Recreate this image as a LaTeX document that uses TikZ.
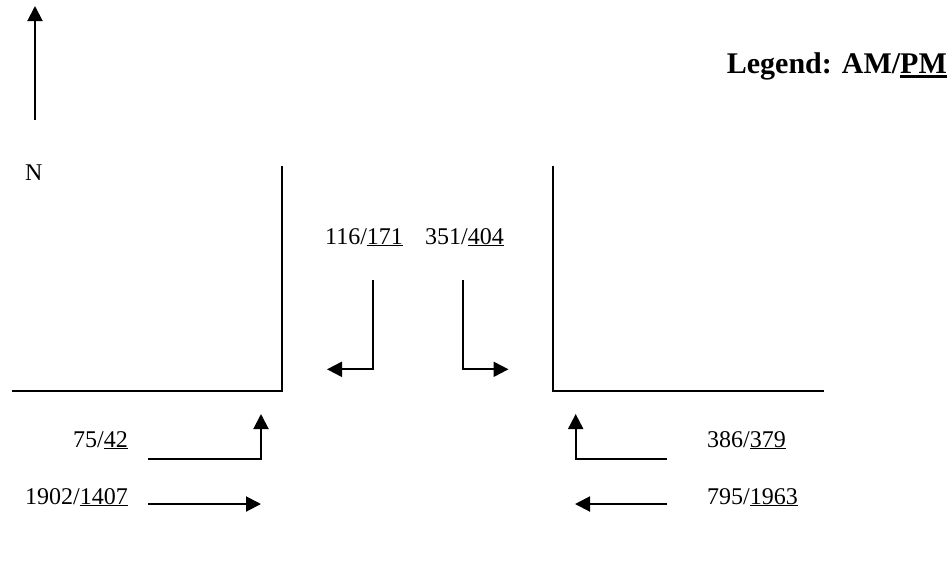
\documentclass[tikz,border=0pt]{standalone}
\usepackage{fontspec}
\setmainfont{Liberation Serif}
\usetikzlibrary{arrows.meta}
\newcommand\boldul[1]{\setbox0\hbox{#1}\rlap{\rule[-4.5pt]{\wd0}{2.4pt}}\box0}
\begin{document}
\begin{tikzpicture}[x=1pt,y=-1pt,
  road/.style={line width=2pt,line join=miter},
  mvt/.style={line width=2pt,-{Triangle[length=15pt,width=15pt]}},
  lbl/.style={inner sep=0pt,font=\fontsize{24}{28}\selectfont},
  leg/.style={inner sep=0pt,font=\fontsize{30}{34}\selectfont\bfseries}]
\useasboundingbox (0,0) rectangle (952,571);
% roads
\coordinate (wl) at (12,391);
\coordinate (wc) at (282.3,391);
\coordinate (wt) at (282.3,165.7);
\coordinate (et) at (553.3,165.7);
\coordinate (ec) at (553.3,391);
\coordinate (er) at (824,391);
\draw[road] (wl) -- (wc) -- (wt);
\draw[road] (et) -- (ec) -- (er);
% north arrow
\coordinate (n0) at (35,120);
\coordinate (n1) at (35,6);
\draw[mvt] (n0) -- (n1);
\node[lbl,anchor=base west] (N) at (25,180) {N};
% legend
\node[leg,anchor=base east] (legend) at (947,73) {Legend: AM/\boldul{PM}};
% labels
\node[lbl,anchor=base west] (sl) at (325,244) {116/\underline{171}};
\node[lbl,anchor=base west] (sr) at (425,244) {351/\underline{404}};
\node[lbl,anchor=base west] (el) at (73,447) {75/\underline{42}};
\node[lbl,anchor=base west] (et2) at (25,504) {1902/\underline{1407}};
\node[lbl,anchor=base west] (wl2) at (707,447) {386/\underline{379}};
\node[lbl,anchor=base west] (wt2) at (707,504) {795/\underline{1963}};
% southbound movements
\coordinate (a1) at (373.3,280);
\coordinate (a2) at (373.3,369.3);
\coordinate (a3) at (327,369.3);
\draw[mvt] (a1) -- (a2) -- (a3);
\coordinate (b1) at (462.7,280);
\coordinate (b2) at (462.7,369.3);
\coordinate (b3) at (508.5,369.3);
\draw[mvt] (b1) -- (b2) -- (b3);
% eastbound movements
\coordinate (c1) at (148,459);
\coordinate (c2) at (261,459);
\coordinate (c3) at (261,414);
\draw[mvt] (c1) -- (c2) -- (c3);
\coordinate (d1) at (148,504);
\coordinate (d2) at (261,504);
\draw[mvt] (d1) -- (d2);
% westbound movements
\coordinate (e1) at (666.7,459);
\coordinate (e2) at (575.7,459);
\coordinate (e3) at (575.7,414);
\draw[mvt] (e1) -- (e2) -- (e3);
\coordinate (f1) at (666.7,504);
\coordinate (f2) at (575,504);
\draw[mvt] (f1) -- (f2);
\end{tikzpicture}
\end{document}
